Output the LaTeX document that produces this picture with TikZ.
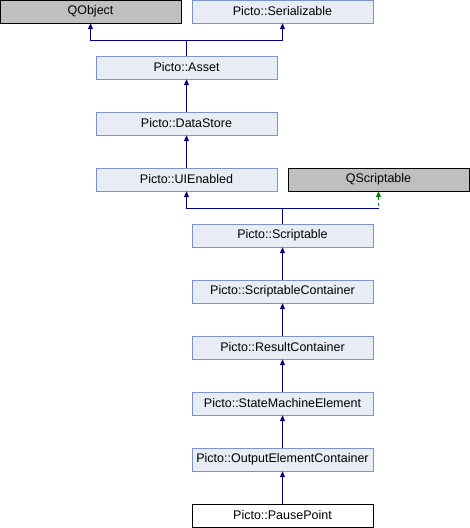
\documentclass[tikz,border=0pt]{standalone}
\usepackage{fontspec}
\setmainfont{Liberation Sans}
\usetikzlibrary{arrows.meta}
\definecolor{boxfill}{HTML}{E8ECF5}
\definecolor{boxline}{HTML}{7B93C9}
\definecolor{extfill}{HTML}{BFBFBF}
\definecolor{edgeblue}{HTML}{000080}
\definecolor{edgegreen}{HTML}{008000}
\begin{document}
\begin{tikzpicture}[x=1pt,y=-1pt,
  cls/.style={draw=boxline,fill=boxfill,minimum width=181pt,minimum height=23pt,inner sep=0pt,font=\fontsize{12.5}{14}\selectfont},
  ext/.style={cls,draw=black,fill=extfill},
  self/.style={cls,draw=black,fill=white},
  inherit/.style={draw=edgeblue,line width=0.9pt,-{Triangle[width=5pt,length=6pt]}},
  usage/.style={draw=edgegreen,line width=0.9pt,dashed,-{Triangle[width=5pt,length=6pt]}}]
\useasboundingbox (0,0) rectangle (470,528);
\node[ext] (qobject) at (90.5,11.5) {QObject};
\node[cls] (serial) at (282.5,11.5) {Picto::Serializable};
\node[cls] (asset) at (186.5,67.5) {Picto::Asset};
\node[cls] (datastore) at (186.5,123.5) {Picto::DataStore};
\node[cls] (uienabled) at (186.5,179.5) {Picto::UIEnabled};
\node[ext] (qscript) at (378.5,179.5) {QScriptable};
\node[cls] (scriptable) at (282.5,235.5) {Picto::Scriptable};
\node[cls] (scont) at (282.5,291.5) {Picto::ScriptableContainer};
\node[cls] (rcont) at (282.5,347.5) {Picto::ResultContainer};
\node[cls] (sme) at (282.5,403.5) {Picto::StateMachineElement};
\node[cls] (ocont) at (282.5,459.5) {Picto::OutputElementContainer};
\node[self] (pause) at (282.5,515.5) {Picto::PausePoint};
\coordinate (j1) at (186.5,40.5);
\coordinate (j2) at (282.5,208);
\draw[inherit] (asset.north) -- (j1) -| (qobject.south);
\draw[inherit] (asset.north) -- (j1) -| (serial.south);
\draw[inherit] (datastore) -- (asset);
\draw[inherit] (uienabled) -- (datastore);
\draw[usage] (scriptable.north) -- (j2) -| (qscript.south);
\draw[edgeblue,line width=0.9pt] (j2) -- (qscript.south |- j2);
\draw[inherit] (scriptable.north) -- (j2) -| (uienabled.south);
\draw[inherit] (scont) -- (scriptable);
\draw[inherit] (rcont) -- (scont);
\draw[inherit] (sme) -- (rcont);
\draw[inherit] (ocont) -- (sme);
\draw[inherit] (pause) -- (ocont);
\end{tikzpicture}
\end{document}
